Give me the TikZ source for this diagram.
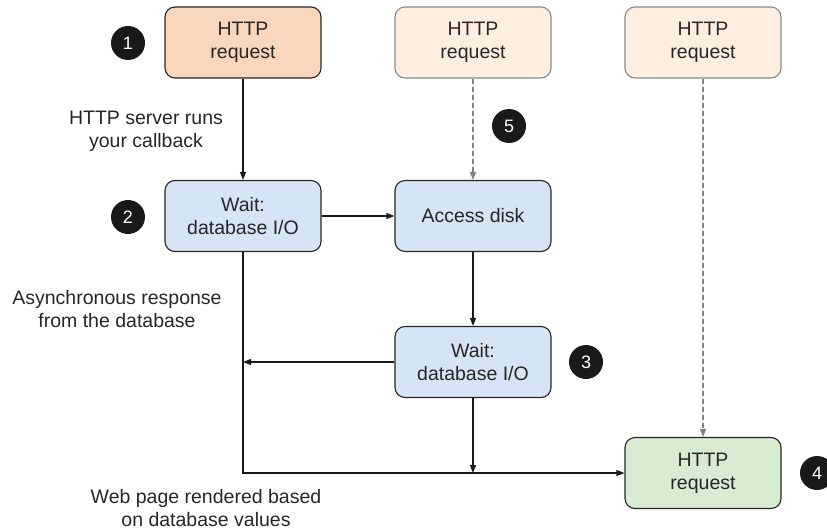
\documentclass[tikz,border=0pt]{standalone}
\usepackage{fontspec}
\setmainfont{Liberation Sans}
\usetikzlibrary{arrows.meta,calc}

\definecolor{reqhot}{HTML}{F9D7BC}
\definecolor{reqpale}{HTML}{FDEEE0}
\definecolor{waitblue}{HTML}{D5E5F5}
\definecolor{donegreen}{HTML}{D7ECD3}
\definecolor{txt}{HTML}{262626}
\definecolor{paleedge}{HTML}{8A8A8A}

\tikzset{
  box/.style={draw=black!85, line width=1.1pt, rounded corners=10pt,
    minimum width=156pt, minimum height=71pt, align=center, text=txt,
    font=\fontsize{19.5}{23}\selectfont},
  palebox/.style={box, draw=paleedge, fill=reqpale},
  badge/.style={circle, fill=black!90, text=white, minimum size=34pt,
    inner sep=0pt, font=\fontsize{18}{18}\selectfont},
  note/.style={align=center, text=txt, font=\fontsize{19.5}{23}\selectfont},
  arr/.style={line width=1.1pt, draw=black!90, -{Triangle[length=8pt,width=6pt]}},
  darr/.style={line width=1.1pt, draw=black!50, dashed,
    dash pattern=on 5pt off 3pt, -{Triangle[length=8pt,width=6pt]}},
}

\begin{document}
\begin{tikzpicture}[x=1pt,y=-1pt]
  \useasboundingbox (0,0) rectangle (827,532);

  % request boxes along the top
  \node[box, fill=reqhot] (r1) at (243,42.5) {HTTP\\request};
  \node[palebox] (r2) at (473,42.5) {HTTP\\request};
  \node[palebox] (r3) at (703,42.5) {HTTP\\request};

  % work boxes
  \node[box, fill=waitblue] (w1) at (243,216) {Wait:\\database I/O};
  \node[box, fill=waitblue] (disk) at (473,216) {Access disk};
  \node[box, fill=waitblue] (w2) at (473,362) {Wait:\\database I/O};
  \node[box, fill=donegreen] (r4) at (703,473) {HTTP\\request};

  % numbered badges
  \node[badge] (c1) at (128,43) {1};
  \node[badge] (c2) at (128,217) {2};
  \node[badge] (c3) at (586,362) {3};
  \node[badge] (c4) at (817,473) {4};
  \node[badge] (c5) at (509,126) {5};

  % captions
  \node[note] (callback) at (146,131) {HTTP server runs\\your callback};
  \node[note] (async) at (117,309) {Asynchronous response\\from the database};
  \node[note] (web) at (206,508) {Web page rendered based\\on database values};

  % connectors
  \draw[arr] (r1) -- (w1);
  \draw[arr] (w1) -- (disk);
  \draw[arr] (disk) -- (w2);
  \draw[darr] (r2) -- (disk);
  \draw[darr] (r3) -- (r4);

  \coordinate (back) at (w1.south |- w2.west);
  \coordinate (corner) at (w1.south |- r4.west);
  \coordinate (meet) at (w2.south |- r4.west);
  \draw[arr] (w2.west) -- (back);
  \draw[arr] (w1.south) -- (corner) -- (r4.west);
  \draw[arr] (w2.south) -- (meet);
\end{tikzpicture}
\end{document}
